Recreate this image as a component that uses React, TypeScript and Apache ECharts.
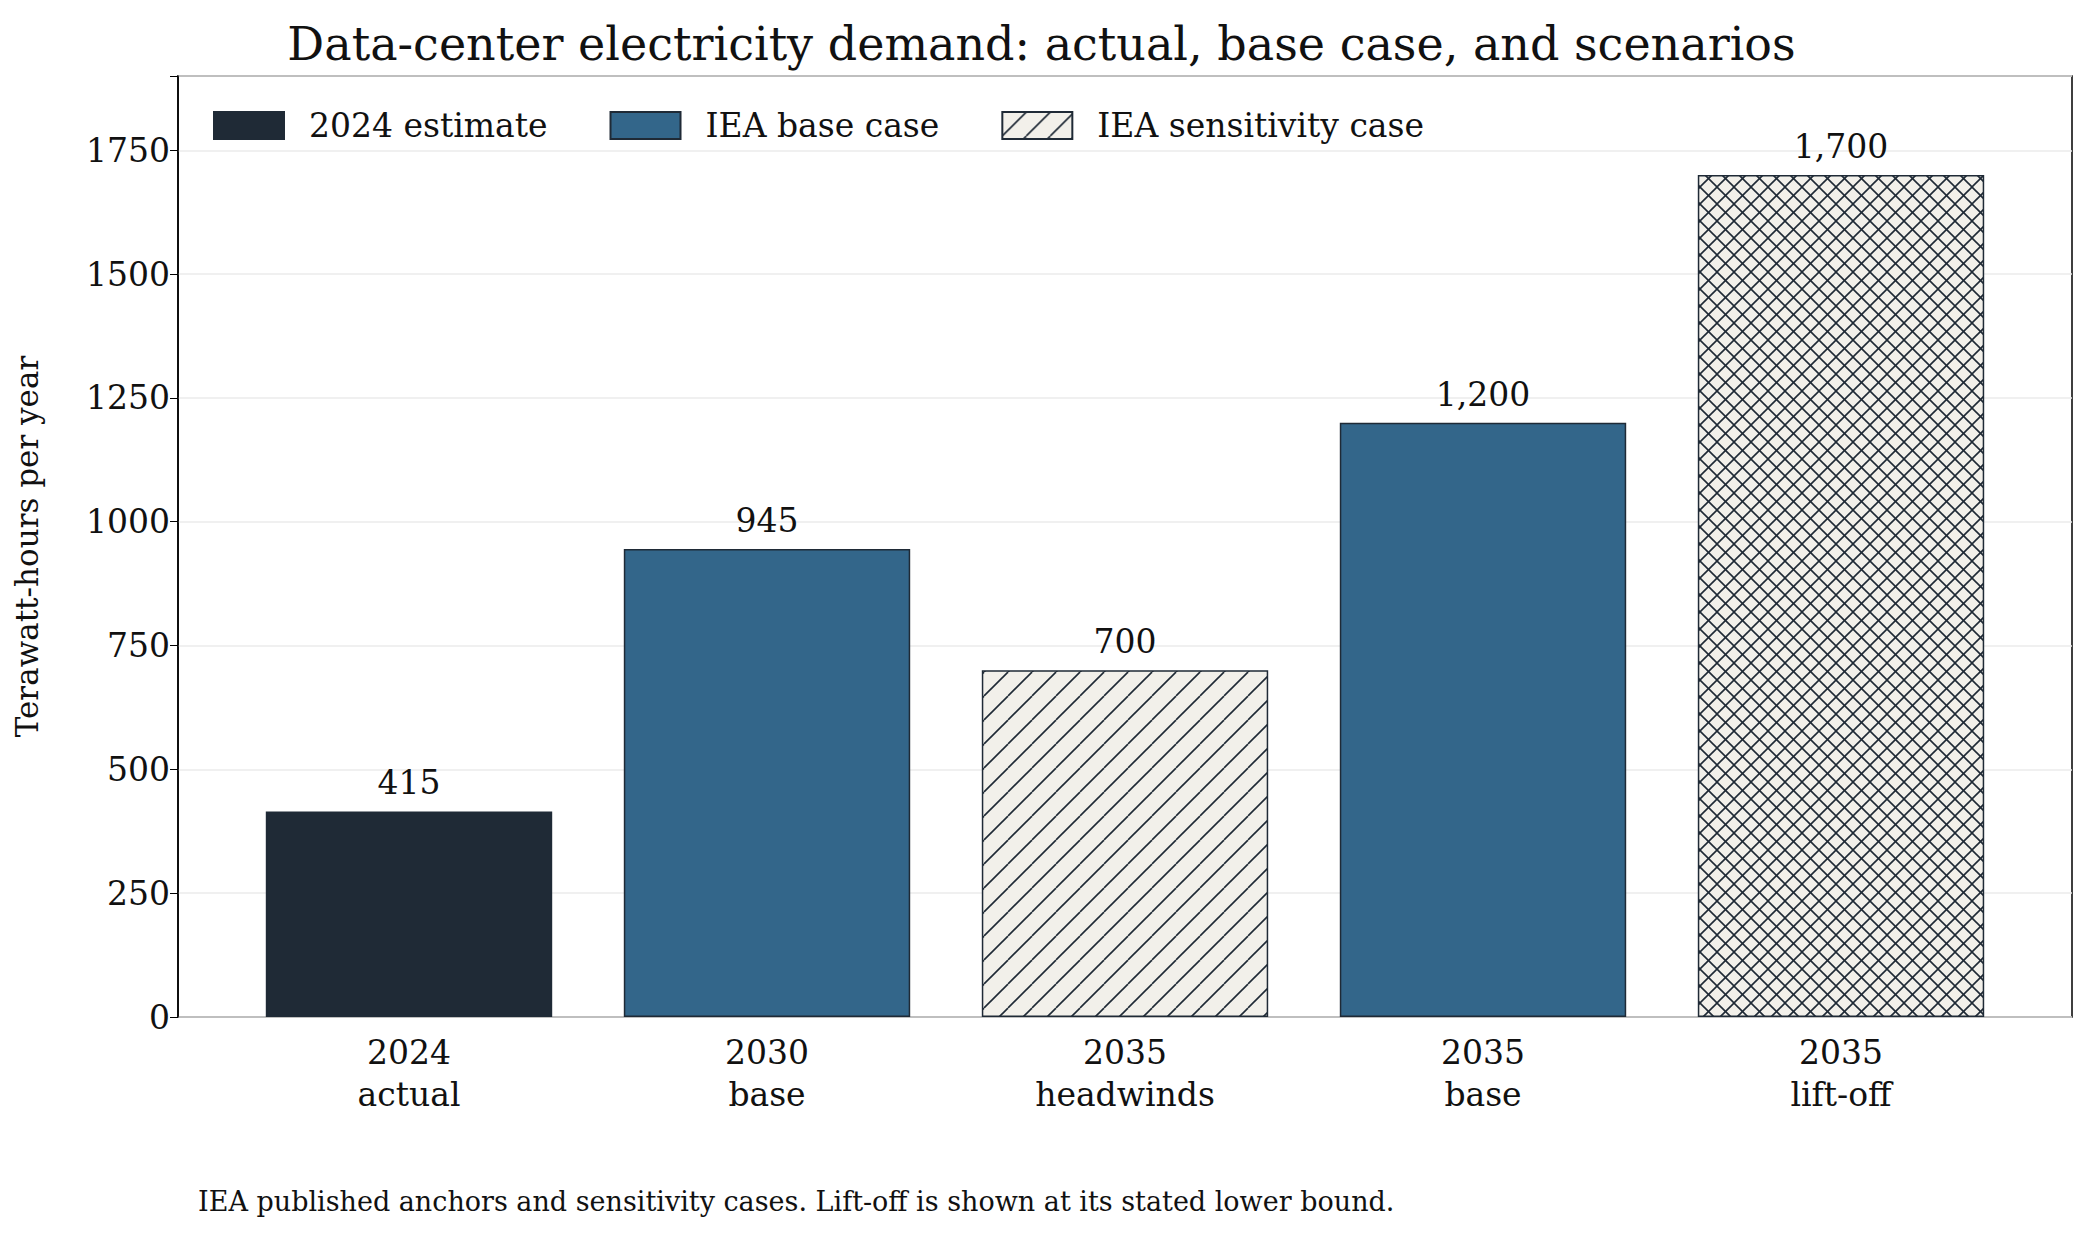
import React, { useEffect, useRef } from "react";
import * as echarts from "echarts";

const categories = ["2024\nactual", "2030\nbase", "2035\nheadwinds", "2035\nbase", "2035\nlift-off"];
const values = [415, 945, 700, 1200, 1700];
const kinds = ["estimate", "base", "hatch", "base", "cross"];
const legendNames = ["2024 estimate", "IEA base case", "IEA sensitivity case"];
const yTicks = { min: 0, max: 1900, interval: 250 };

const FONT = "'DejaVu Serif', 'Liberation Serif', serif";
const EDGE = "#1f2a36";
const FS = 33;

function makePattern(step: number, cross: boolean) {
  const c = document.createElement("canvas");
  c.width = step;
  c.height = step;
  const ctx = c.getContext("2d")!;
  ctx.fillStyle = "#f2f0ea";
  ctx.fillRect(0, 0, step, step);
  ctx.strokeStyle = EDGE;
  ctx.lineWidth = 1.6;
  const seg = (x0: number, y0: number, x1: number, y1: number) => {
    ctx.beginPath();
    ctx.moveTo(x0, y0);
    ctx.lineTo(x1, y1);
    ctx.stroke();
  };
  for (const o of [-step, 0, step]) {
    seg(o, step, o + step, 0);
    if (cross) seg(o, 0, o + step, step);
  }
  return { image: c, repeat: "repeat" as const };
}

export default function App() {
  const ref = useRef<HTMLDivElement | null>(null);

  useEffect(() => {
    document.body.style.margin = "0";
    const chart = echarts.init(ref.current!, undefined, { renderer: "svg" });
    const hatch = makePattern(24, false);
    const cross = makePattern(17, true);
    const fillFor = (k: string) =>
      k === "estimate" ? EDGE : k === "base" ? "#33668a" : k === "hatch" ? hatch : cross;
    const group = (k: string) => (k === "estimate" ? 0 : k === "base" ? 1 : 2);

    const series = legendNames.map((name, gi) => ({
      name,
      type: "bar",
      stack: "all",
      xAxisIndex: 1,
      yAxisIndex: 1,
      barWidth: "80%",
      itemStyle: { color: gi === 0 ? EDGE : gi === 1 ? "#33668a" : hatch, borderColor: EDGE, borderWidth: 1.5 },
      label: {
        show: true,
        position: "top",
        distance: 12,
        fontFamily: FONT,
        fontSize: FS,
        color: "#111",
        formatter: (p: any) => Number(p.value).toLocaleString("en-US"),
      },
      data: values.map((v, i) =>
        group(kinds[i]) === gi ? { value: v, itemStyle: { color: fillFor(kinds[i]) } } : "-"
      ),
    }));

    chart.setOption({
      animation: false,
      title: {
        text: "Data-center electricity demand: actual, base case, and scenarios",
        left: "center",
        top: 16,
        textStyle: { fontFamily: FONT, fontSize: 46, fontWeight: "normal", color: "#111" },
      },
      legend: {
        left: 208,
        top: 104,
        itemWidth: 70,
        itemHeight: 27,
        itemGap: 62,
        icon: "rect",
        textStyle: { fontFamily: FONT, fontSize: FS, color: "#111", padding: [0, 0, 0, 20] },
        data: legendNames,
      },
      grid: [
        { left: 178, right: 11, top: 76, bottom: 220, show: true, borderColor: "#000", borderWidth: 1.5 },
        { left: 230, right: 63, top: 76, bottom: 220 },
      ],
      xAxis: [
        { type: "category", gridIndex: 0, data: categories, show: false },
        {
          type: "category",
          gridIndex: 1,
          data: categories,
          axisLine: { show: false },
          axisTick: { alignWithLabel: true, length: 8, lineStyle: { color: "#000" } },
          axisLabel: { fontFamily: FONT, fontSize: FS, color: "#111", lineHeight: 42, margin: 14 },
        },
      ],
      yAxis: [
        {
          type: "value",
          gridIndex: 0,
          ...yTicks,
          name: "Terawatt-hours per year",
          nameLocation: "middle",
          nameGap: 136,
          nameTextStyle: { fontFamily: FONT, fontSize: 31, color: "#111" },
          axisLine: { show: true, lineStyle: { color: "#000", width: 1.5 } },
          axisTick: { show: true, length: 8, lineStyle: { color: "#000" } },
          axisLabel: {
            fontFamily: FONT,
            fontSize: FS,
            color: "#111",
            formatter: (v: number) => (v > 1750 ? "" : String(v)),
          },
          splitLine: { lineStyle: { color: "#ebebeb", width: 1.5 } },
        },
        { type: "value", gridIndex: 1, ...yTicks, show: false, splitLine: { show: false } },
      ],
      series,
      graphic: [
        {
          type: "text",
          left: 198,
          top: 1188,
          style: {
            text: "IEA published anchors and sensitivity cases. Lift-off is shown at its stated lower bound.",
            fontFamily: FONT,
            fontSize: 27,
            fill: "#111",
          },
        },
      ],
    });
    return () => chart.dispose();
  }, []);

  return <div ref={ref} style={{ width: 2083, height: 1237 }} />;
}
